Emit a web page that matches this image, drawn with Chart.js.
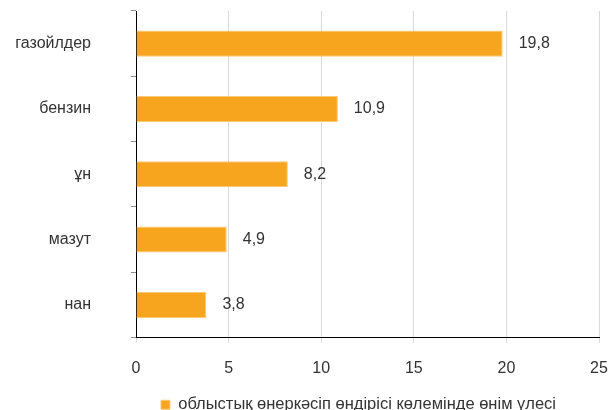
<!DOCTYPE html>
<html lang="kk">

<head>
  <meta charset="UTF-8">
  <title>Өнім үлесі</title>
  <script src="https://cdn.jsdelivr.net/npm/chart.js"></script>
  <style>
    body { margin: 0; background: #fff; }
  </style>
</head>

<body>
  <canvas id="chartBar" width="609" height="410"></canvas>
</body>

</html>
<script>
  // деректер
  const categories = ['газойлдер', 'бензин', 'ұн', 'мазут', 'нан'];
  const shares = [19.8, 10.9, 8.2, 4.9, 3.8];
  const xTicks = [0, 5, 10, 15, 20, 25];
  const seriesName = 'облыстық өнеркәсіп өндірісі көлемінде өнім үлесі';

  const textColor = '#333333';
  const fontFamily = '"Liberation Sans", Arial, sans-serif';

  // мәндерді бағандардың оң жағына жазу
  const valueLabels = {
    id: 'valueLabels',
    afterDatasetsDraw(chart) {
      const ctx = chart.ctx;
      const meta = chart.getDatasetMeta(0);
      ctx.save();
      ctx.font = '16px ' + fontFamily;
      ctx.fillStyle = textColor;
      ctx.textAlign = 'left';
      ctx.textBaseline = 'middle';
      meta.data.forEach((bar, i) => {
        const txt = String(shares[i]).replace('.', ',');
        ctx.fillText(txt, bar.x + 16, bar.y);
      });
      ctx.restore();
    }
  };

  // легенданы сәл солға жылжыту
  const legendShift = {
    id: 'legendShift',
    afterLayout(chart) {
      chart.legend.left -= 9;
      chart.legend.right -= 9;
    }
  };

  const ctxBar = document.getElementById('chartBar');
  const chart = new Chart(ctxBar, {
    type: 'bar',
    data: {
      labels: categories,
      datasets: [{
        label: seriesName,
        data: shares,
        backgroundColor: '#F7A51F',
        borderColor: '#FBC978',
        borderWidth: 1,
        barPercentage: 0.4,
        categoryPercentage: 1
      }]
    },
    options: {
      indexAxis: 'y',
      responsive: false,
      animation: false,
      layout: {
        padding: { left: 0, right: 0, top: 11, bottom: -13 }
      },
      plugins: {
        legend: {
          display: true,
          position: 'bottom',
          fullSize: false,
          labels: {
            color: textColor,
            font: { family: fontFamily, size: 16.5 },
            boxWidth: 9,
            boxHeight: 9,
            padding: 6
          }
        },
        tooltip: { enabled: false }
      },
      scales: {
        x: {
          min: 0,
          max: 25,
          afterBuildTicks: (scale) => {
            scale.ticks = xTicks.map(v => ({ value: v }));
          },
          afterFit: (scale) => {
            scale.height = 53;
            scale.paddingLeft = 0;
            scale.paddingRight = 10;
          },
          grid: {
            color: '#D9D9D9',
            tickLength: 5
          },
          border: { color: '#000000', width: 1 },
          ticks: {
            color: textColor,
            font: { family: fontFamily, size: 16 },
            padding: 16
          }
        },
        y: {
          afterFit: (scale) => {
            scale.width = 136;
            scale.paddingTop = 0;
            scale.paddingBottom = 0;
          },
          grid: {
            drawOnChartArea: false,
            color: '#8C8C8C',
            tickLength: 5
          },
          border: { color: '#000000', width: 1 },
          ticks: {
            color: textColor,
            font: { family: fontFamily, size: 16 },
            padding: 40
          }
        }
      }
    },
    plugins: [valueLabels, legendShift]
  });
</script>
